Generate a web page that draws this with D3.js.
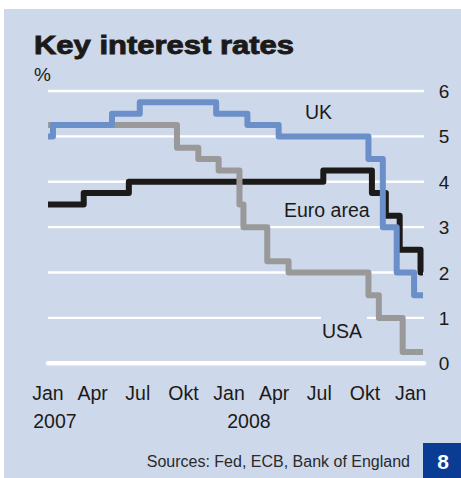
<!DOCTYPE html>
<html lang="en">
<head>
<meta charset="utf-8">
<title>Key interest rates</title>
<style>
  body { margin: 0; background: #ffffff; }
  svg { display: block; font-family: "Liberation Sans", Arial, sans-serif; }
</style>
</head>
<body>
<svg id="chart" width="461" height="478"></svg>

<script src="https://d3js.org/d3.v7.min.js"></script>
<script>
// policy rate changes: [date of change, rate in %]
const ukRate = [
  ["2007-01-01", 5.0], ["2007-01-11", 5.25], ["2007-05-10", 5.5], ["2007-07-05", 5.75],
  ["2007-12-06", 5.5], ["2008-02-07", 5.25], ["2008-04-10", 5.0], ["2008-10-08", 4.5],
  ["2008-11-06", 3.0], ["2008-12-04", 2.0], ["2009-01-08", 1.5]
];
const euroRate = [
  ["2007-01-01", 3.5], ["2007-03-14", 3.75], ["2007-06-13", 4.0], ["2008-07-09", 4.25],
  ["2008-10-15", 3.75], ["2008-11-12", 3.25], ["2008-12-10", 2.5], ["2009-01-21", 2.0]
];
const usaRate = [
  ["2007-01-01", 5.25], ["2007-09-18", 4.75], ["2007-10-31", 4.5], ["2007-12-11", 4.25],
  ["2008-01-22", 3.5], ["2008-01-30", 3.0], ["2008-03-18", 2.25], ["2008-04-30", 2.0],
  ["2008-10-08", 1.5], ["2008-10-29", 1.0], ["2008-12-16", 0.25]
];
const lastDay = "2009-01-26";

const yTicks = [0, 1, 2, 3, 4, 5, 6];
const monthTicks = [
  ["2007-01-01", "Jan"], ["2007-04-01", "Apr"], ["2007-07-01", "Jul"], ["2007-10-01", "Okt"],
  ["2008-01-01", "Jan"], ["2008-04-01", "Apr"], ["2008-07-01", "Jul"], ["2008-10-01", "Okt"],
  ["2009-01-01", "Jan"]
];
const yearTicks = [["2007-01-15", "2007"], ["2008-02-10", "2008"]];

const seriesNames = ["Euro area", "USA", "UK"];
const seriesColors = ["#1c1a19", "#999999", "#6b8fc8"];

const parse = d3.timeParse("%Y-%m-%d");
const svg = d3.select("#chart");

const x = d3.scaleTime()
  .domain([parse("2007-01-01"), parse("2009-01-28")])
  .range([48, 424]);
const y = d3.scaleLinear().domain([0, 6]).range([363.3, 91]);

// panel
svg.append("rect").attr("x", 4).attr("y", 9).attr("width", 457).attr("height", 469)
  .attr("fill", "#cdd8ea");

svg.append("text")
  .attr("x", 34).attr("y", 54)
  .attr("font-size", 26).attr("font-weight", "bold")
  .attr("fill", "#1c1a19").attr("stroke", "#1c1a19").attr("stroke-width", 0.9)
  .attr("textLength", 260).attr("lengthAdjust", "spacingAndGlyphs")
  .text("Key interest rates");

svg.append("text").attr("x", 34).attr("y", 81).attr("font-size", 19)
  .attr("fill", "#1c1a19").text("%");

// gridlines
svg.append("g").selectAll("line").data(yTicks).join("line")
  .attr("x1", x.range()[0]).attr("x2", x.range()[1])
  .attr("y1", d => y(d)).attr("y2", d => y(d))
  .attr("stroke", "#ffffff")
  .attr("stroke-width", d => d === 0 ? 4.5 : 2.4)
  .attr("stroke-linecap", d => d === 0 ? "round" : "butt");

svg.append("g").selectAll("text").data(yTicks).join("text")
  .attr("x", 444).attr("y", d => y(d) + 7)
  .attr("text-anchor", "middle").attr("font-size", 19).attr("fill", "#1c1a19")
  .text(d => d);

svg.append("g").selectAll("text").data(monthTicks).join("text")
  .attr("x", d => x(parse(d[0]))).attr("y", 400)
  .attr("text-anchor", "middle").attr("font-size", 19.5).attr("fill", "#1c1a19")
  .text(d => d[1]);

svg.append("g").selectAll("text").data(yearTicks).join("text")
  .attr("x", d => x(parse(d[0]))).attr("y", 428)
  .attr("text-anchor", "middle").attr("font-size", 19.5).attr("fill", "#1c1a19")
  .text(d => d[1]);

// knock-out behind the USA label
svg.append("rect").attr("x", 321).attr("y", 315).attr("width", 46).attr("height", 26)
  .attr("fill", "#cdd8ea");

// step lines, drawn black, grey, blue
const line = d3.line()
  .x(d => x(d.date)).y(d => y(d.value))
  .curve(d3.curveStepAfter);

[euroRate, usaRate, ukRate].forEach((rows, i) => {
  const pts = rows.map(r => ({ date: parse(r[0]), value: r[1] }));
  pts.push({ date: parse(lastDay), value: rows[rows.length - 1][1] });
  svg.append("path")
    .datum(pts)
    .attr("d", line)
    .attr("fill", "none")
    .attr("stroke", seriesColors[i])
    .attr("stroke-width", 6)
    .attr("stroke-linejoin", "round")
    .attr("stroke-linecap", "butt");
});

// series labels
const labelPos = { "UK": [305, 119], "Euro area": [284, 217], "USA": [322, 338] };
svg.append("g").selectAll("text").data(seriesNames).join("text")
  .attr("x", d => labelPos[d][0]).attr("y", d => labelPos[d][1])
  .attr("font-size", 19.5).attr("fill", "#1c1a19")
  .text(d => d);

// footer
svg.append("text").attr("x", 410).attr("y", 467).attr("text-anchor", "end")
  .attr("font-size", 16).attr("fill", "#2a2a2a")
  .text("Sources: Fed, ECB, Bank of England");

svg.append("rect").attr("x", 423).attr("y", 443).attr("width", 38).attr("height", 35)
  .attr("fill", "#0b3c94");
svg.append("text").attr("x", 443).attr("y", 469).attr("text-anchor", "middle")
  .attr("font-size", 21).attr("font-weight", "bold").attr("fill", "#ffffff")
  .text("8");
</script>
</body>
</html>
